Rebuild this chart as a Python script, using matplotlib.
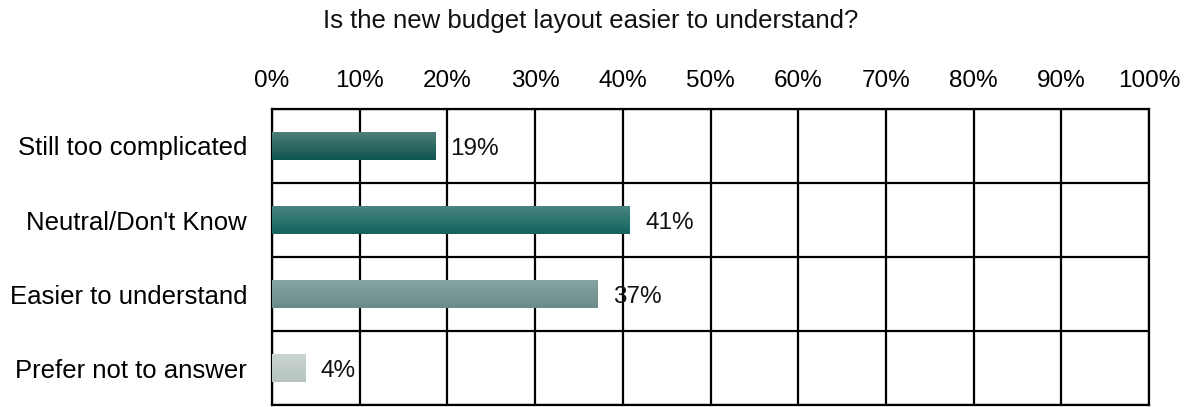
import numpy as np
import matplotlib
matplotlib.use("Agg")
import matplotlib.pyplot as plt
from matplotlib.colors import LinearSegmentedColormap

categories = ["Still too complicated", "Neutral/Don't Know", "Easier to understand", "Prefer not to answer"]
values = [18.6, 40.8, 37.1, 3.8]
value_labels = ["19%", "41%", "37%", "4%"]
tick_values = list(range(0, 101, 10))
tick_labels = [f"{v}%" for v in tick_values]
title = "Is the new budget layout easier to understand?"

top_colors = ["#527f7b", "#4a8682", "#87a5a2", "#cbd5d3"]
bottom_colors = ["#0e544f", "#12635e", "#6a8c89", "#b6c3c1"]

plt.rcParams['font.family'] = ['Liberation Sans', 'DejaVu Sans']

fig = plt.figure(figsize=(11.88, 4.07), dpi=100)
ax = fig.add_axes([272/1188, 1-405/407, (1149-272)/1188, (405-109)/407])

y = np.arange(len(categories))
bars = ax.barh(y, values, height=0.39, color="none", edgecolor="none", zorder=3)
for b, tc, bc in zip(bars, top_colors, bottom_colors):
    cmap = LinearSegmentedColormap.from_list("g", [tc, bc])
    x0, y0 = b.get_x(), b.get_y()
    w, h = b.get_width(), b.get_height()
    grad = np.linspace(0, 1, 64).reshape(-1, 1)
    im = ax.imshow(grad, cmap=cmap, aspect="auto", extent=(x0, x0 + w, y0 + h, y0),
                   origin="upper", zorder=3, interpolation="bilinear")
    im.set_clip_path(b)

for yi, v, lab in zip(y, values, value_labels):
    ax.annotate(lab, (v, yi), xytext=(11, -2.5), textcoords="offset points",
                va="center", ha="left", fontsize=17.5, color="#111111", zorder=4)

ax.set_xlim(0, 100)
ax.set_ylim(len(categories) - 0.5, -0.5)
ax.set_xticks(tick_values)
ax.set_xticklabels(tick_labels, fontsize=17.5)
ax.xaxis.tick_top()
ax.tick_params(axis="x", length=0, pad=12)
ax.set_yticks(y)
ax.set_yticklabels(categories, fontsize=18.5)
ax.tick_params(axis="y", length=0, pad=18)
ax.set_yticks(np.arange(-0.5, len(categories), 1.0), minor=True)
ax.tick_params(axis="y", which="minor", length=0)
ax.grid(axis="x", which="major", color="black", linewidth=1.6, zorder=1)
ax.grid(axis="y", which="minor", color="black", linewidth=1.6, zorder=1)
ax.set_axisbelow(True)
for s in ax.spines.values():
    s.set_color("black")
    s.set_linewidth(1.6)

fig.text(591/1188, 1-21/407, title, ha="center", va="center", fontsize=18.5, color="#111111")

fig.savefig("out.png", dpi=100)
